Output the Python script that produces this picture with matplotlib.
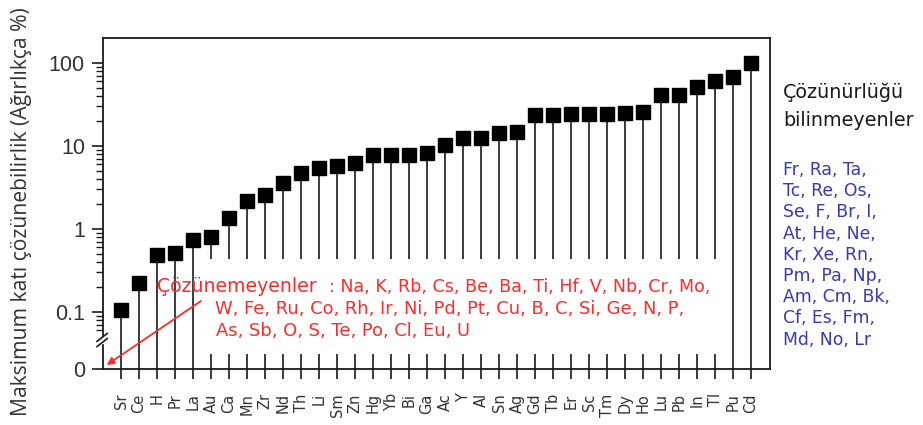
import numpy as np
import matplotlib
matplotlib.use("Agg")
import matplotlib.pyplot as plt
from matplotlib.ticker import FixedLocator, NullFormatter

# ---------------- data ----------------
elements = ['Sr', 'Ce', 'H', 'Pr', 'La', 'Au', 'Ca', 'Mn', 'Zr', 'Nd', 'Th', 'Li',
            'Sm', 'Zn', 'Hg', 'Yb', 'Bi', 'Ga', 'Ac', 'Y', 'Al', 'Sn', 'Ag', 'Gd',
            'Tb', 'Er', 'Sc', 'Tm', 'Dy', 'Ho', 'Lu', 'Pb', 'In', 'Tl', 'Pu', 'Cd']
solubility = [0.106, 0.225, 0.49, 0.51, 0.74, 0.79, 1.35, 2.2, 2.6, 3.6, 4.7, 5.5,
              5.8, 6.2, 7.8, 7.8, 7.8, 8.3, 10.3, 12.4, 12.4, 14.5, 14.9, 23.6,
              23.6, 24.3, 24.3, 24.3, 24.8, 25.9, 41.0, 41.0, 51.8, 60.7, 68.4, 99.0]
ytick_values = [0, 0.1, 1, 10, 100]
ytick_labels = ['0', '0.1', '1', '10', '100']

insoluble_line1 = 'Na, K, Rb, Cs, Be, Ba, Ti, Hf, V, Nb, Cr, Mo,'
insoluble_line2 = 'W, Fe, Ru, Co, Rh, Ir, Ni, Pd, Pt, Cu, B, C, Si, Ge, N, P,'
insoluble_line3 = 'As, Sb, O, S, Te, Po, Cl, Eu, U'
unknown_lines = ['Fr, Ra, Ta,', 'Tc, Re, Os,', 'Se, F, Br, I,', 'At, He, Ne,',
                 'Kr, Xe, Rn,', 'Pm, Pa, Np,', 'Am, Cm, Bk,', 'Cf, Es, Fm,',
                 'Md, No, Lr']

# ---------------- style ----------------
W, H = 923, 425
RED = '#ff2a2a'
BLUE = '#3838b8'
INK = '#1a1a1a'
ZERO_POS = -1.687          # where "0" sits on the broken log axis (in decades)
ARIAL = ['Liberation Sans', 'DejaVu Sans']
WIDE = ['DejaVu Sans']
SANS = ['Open Sans', 'DejaVu Sans']


def fwd(v):
    v = np.asarray(v, dtype=float)
    safe = np.where(v > 0, v, 1.0)
    return np.where(v > 0, np.log10(safe), ZERO_POS)


def inv(y):
    return 10.0 ** np.asarray(y, dtype=float)


fig = plt.figure(figsize=(W / 100, H / 100), dpi=100)
ax = fig.add_axes([103 / W, 1 - 369 / H, (770 - 103) / W, (369 - 38) / H])
ax.set_yscale('function', functions=(fwd, inv))

x = np.arange(len(elements))
vals = np.array(solubility)

# stems: broken where the annotation text sits
broken = np.zeros(len(elements), dtype=bool)
broken[5:34] = True
stem_gap_top = 0.435         # upper part of a broken stem ends here
stem_low_top = 10 ** -1.506  # short lower part of a broken stem
ax.vlines(x[~broken], 0, vals[~broken], color=INK, lw=1.2, zorder=2)
ax.vlines(x[broken], stem_gap_top, vals[broken], color=INK, lw=1.2, zorder=2)
ax.vlines(x[broken], 0, stem_low_top, color=INK, lw=1.2, zorder=2)
ax.plot(x, vals, 's', ms=9.5, color='black', zorder=3)

ax.set_xlim(-1, 36.05)
ax.set_ylim(0, 200)

ax.set_xticks(x)
ax.set_xticklabels(elements, rotation=90, fontsize=10.5, family=WIDE)
ax.tick_params(axis='x', direction='out', length=7.5, width=1.2, pad=10, colors=INK)
for lab in ax.get_xticklabels():
    lab.set_color('#333333')

ax.set_yticks(ytick_values)
ax.set_yticklabels(ytick_labels, fontsize=15.5, family=ARIAL)
minor = [m * 10.0 ** k for k in (-2, -1, 0, 1) for m in range(2, 10)]
minor = [m for m in minor if 0.055 < m < 200]
ax.yaxis.set_minor_locator(FixedLocator(minor))
ax.yaxis.set_minor_formatter(NullFormatter())
ax.tick_params(axis='y', which='major', direction='out', length=8, width=1.2, pad=5, colors=INK)
ax.tick_params(axis='y', which='minor', direction='out', length=5, width=1.0, colors=INK)
for lab in ax.get_yticklabels():
    lab.set_color('#333333')

for sp in ax.spines.values():
    sp.set_linewidth(1.3)
    sp.set_color(INK)

# axis break mark on the left spine
by = (369 - 340) / (369 - 38)
dx, dy = 6 / (770 - 103), 4 / (369 - 38)
gap = 2.6 / (369 - 38)
ax.fill_between([-0.004, 0.004], by - gap, by + gap, color='white',
                transform=ax.transAxes, clip_on=False, zorder=4)
for off in (-gap, gap):
    ax.plot([-dx, dx * 0.7], [by + off - dy, by + off + dy], color=INK, lw=1.2,
            transform=ax.transAxes, clip_on=False, zorder=5)


def ftext(px, py, s, **kw):
    return fig.text(px / W, 1 - py / H, s, **kw)


ftext(22, 212, 'Maksimum katı çözünebilirlik (Ağırlıkça %)', rotation=90,
      ha='center', va='center', fontsize=15.2, family=SANS, color='#333333')

# insoluble elements (red)
ftext(157, 292, 'Çözünemeyenler', fontsize=13.6, family=WIDE, color=RED, va='baseline')
ftext(329, 292, ': ' + insoluble_line1, fontsize=12.6, family=WIDE, color=RED, va='baseline')
ftext(215, 313.5, insoluble_line2, fontsize=12.9, family=WIDE, color=RED, va='baseline')
ftext(216, 335.5, insoluble_line3, fontsize=12.9, family=WIDE, color=RED, va='baseline')

# arrow pointing to the zero line
ax.annotate('', xy=(106.7 / W, 1 - 365 / H), xycoords='figure fraction',
            xytext=(201 / W, 1 - 301 / H), textcoords='figure fraction',
            arrowprops=dict(arrowstyle='-|>', color=RED, lw=1.3, mutation_scale=11,
                            shrinkA=0, shrinkB=0))

# elements with unknown solubility
ftext(783, 98, 'Çözünürlüğü', fontsize=13.8, family=WIDE, color=INK, va='baseline')
ftext(783, 126, 'bilinmeyenler', fontsize=13.8, family=WIDE, color=INK, va='baseline')
for i, line in enumerate(unknown_lines):
    ftext(783, 175 + 21.2 * i, line, fontsize=12.4, family=WIDE, color=BLUE, va='baseline')

fig.savefig('out.png', dpi=100)
